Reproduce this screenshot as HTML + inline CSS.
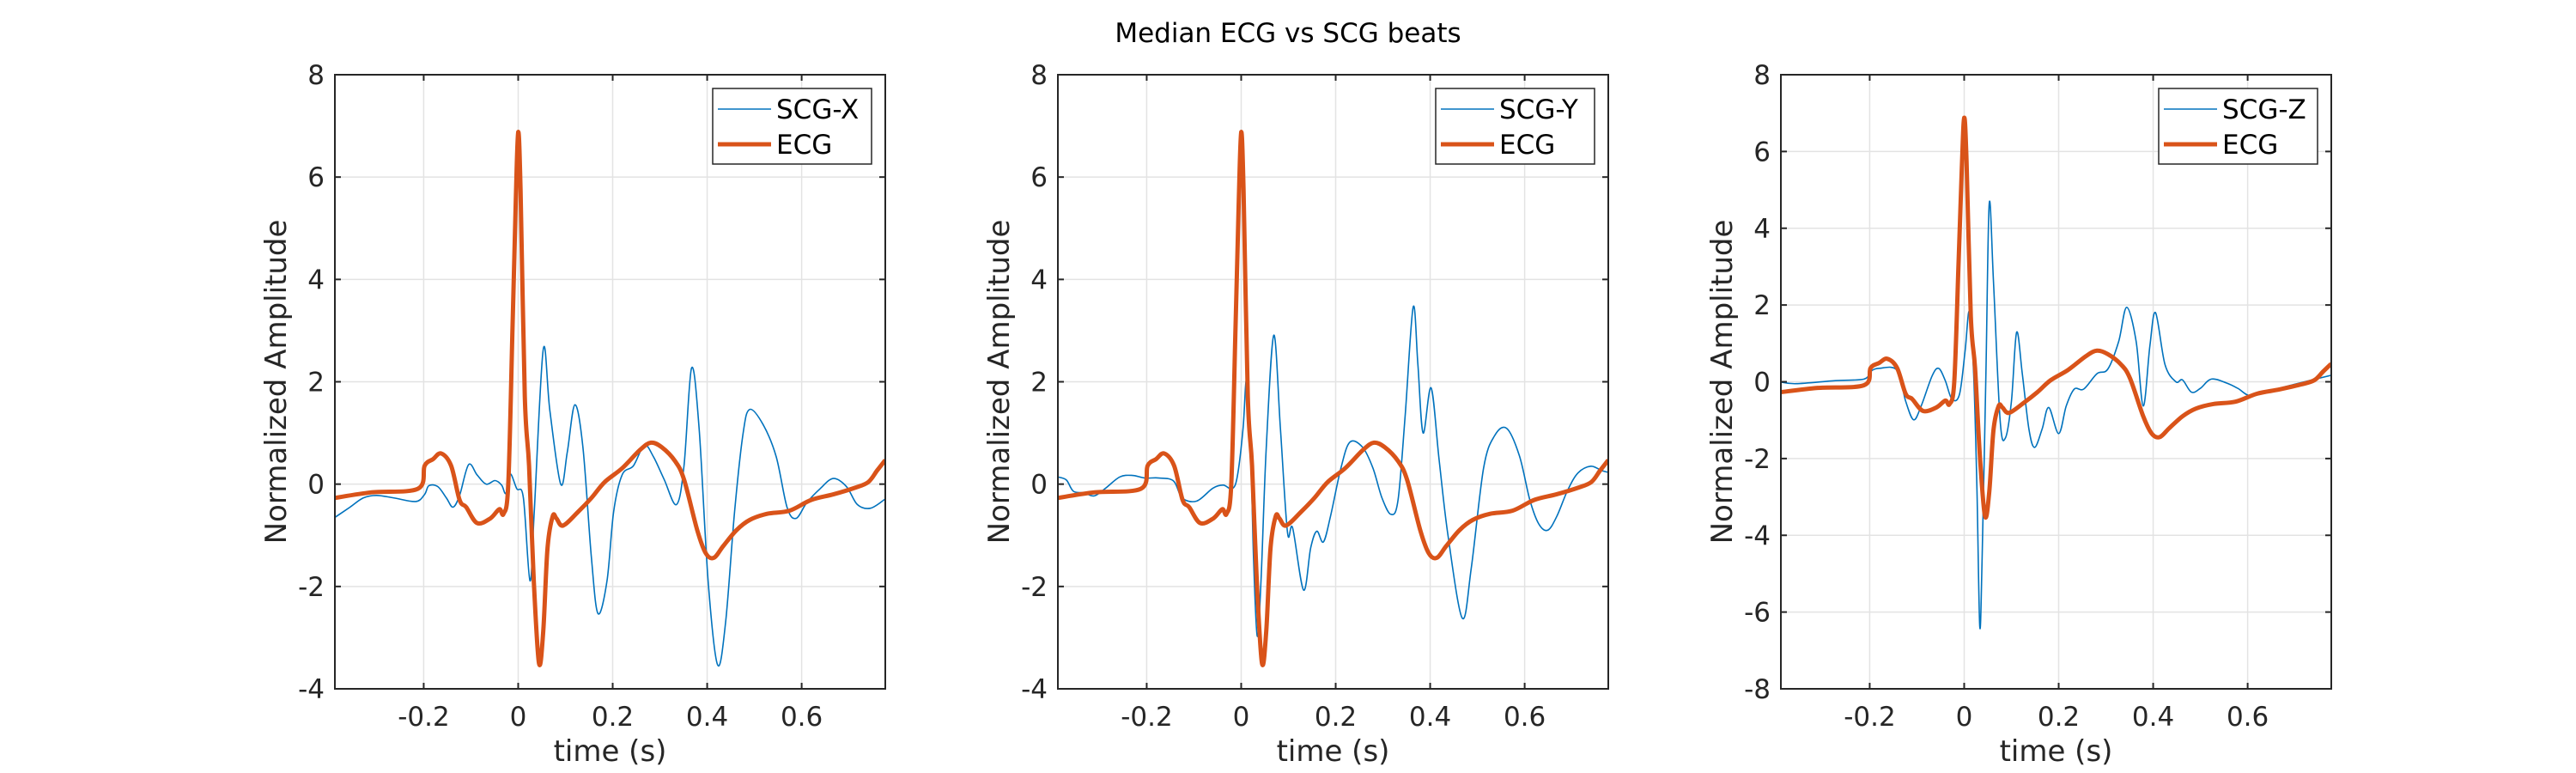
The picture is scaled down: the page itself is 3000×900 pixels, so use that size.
<!DOCTYPE html>
<html><head><meta charset="utf-8">
<style>
html,body{margin:0;padding:0;background:#fff;}
svg{display:block;}
text{font-family:"DejaVu Sans","Liberation Sans",sans-serif;}
</style></head>
<body>
<svg id="fig" xmlns="http://www.w3.org/2000/svg" width="3000" height="900" viewBox="0 0 3000 900">
<rect x="0" y="0" width="3000" height="900" fill="#fff"/>
<text x="1500" y="49" font-size="31" text-anchor="middle" fill="#000">Median ECG vs SCG beats</text>
</svg>
<script>
// ECG (shared across panels)
const ecgT = [-0.388,-0.310,-0.212,-0.198,-0.180,-0.163,-0.142,-0.124,-0.110,-0.087,-0.059,-0.040,-0.031,-0.021,-0.012,-0.005,0.0,0.005,0.014,0.023,0.033,0.044,0.053,0.062,0.073,0.081,0.095,0.127,0.155,0.183,0.220,0.258,0.281,0.304,0.332,0.351,0.379,0.397,0.414,0.434,0.462,0.490,0.527,0.574,0.620,0.667,0.713,0.741,0.760,0.777];
const ecgV = [-0.27,-0.16,-0.09,0.36,0.49,0.6,0.36,-0.31,-0.45,-0.76,-0.67,-0.49,-0.58,0.0,3.06,5.57,6.88,5.75,1.71,0.36,-1.89,-3.5,-2.88,-1.26,-0.63,-0.67,-0.81,-0.54,-0.27,0.04,0.31,0.67,0.81,0.72,0.45,0.09,-0.9,-1.35,-1.44,-1.21,-0.9,-0.7,-0.58,-0.52,-0.31,-0.2,-0.07,0.04,0.27,0.47];
// SCG-X
const scgXT = [-0.388,-0.356,-0.328,-0.300,-0.263,-0.217,-0.198,-0.189,-0.170,-0.152,-0.138,-0.124,-0.105,-0.087,-0.068,-0.049,-0.035,-0.026,-0.017,-0.003,0.011,0.025,0.034,0.053,0.067,0.090,0.104,0.120,0.137,0.155,0.169,0.188,0.202,0.220,0.244,0.267,0.286,0.309,0.335,0.351,0.367,0.383,0.402,0.422,0.439,0.458,0.476,0.490,0.518,0.546,0.569,0.588,0.611,0.639,0.667,0.695,0.718,0.746,0.777];
const scgXV = [-0.65,-0.45,-0.27,-0.22,-0.27,-0.34,-0.2,-0.03,-0.05,-0.27,-0.45,-0.22,0.38,0.18,0.0,0.07,-0.02,-0.18,0.2,-0.09,-0.27,-1.89,-0.54,2.63,1.44,0.0,0.63,1.55,0.72,-1.44,-2.53,-1.89,-0.54,0.18,0.36,0.76,0.54,0.09,-0.4,0.36,2.27,1.08,-1.89,-3.53,-2.7,-0.54,0.99,1.46,1.17,0.54,-0.45,-0.67,-0.36,-0.09,0.11,-0.05,-0.4,-0.47,-0.29];
// SCG-Y
const scgYT = [-0.388,-0.370,-0.355,-0.332,-0.311,-0.287,-0.257,-0.230,-0.204,-0.174,-0.143,-0.125,-0.094,-0.060,-0.038,-0.019,-0.008,0.004,0.011,0.019,0.026,0.034,0.042,0.053,0.069,0.083,0.098,0.109,0.132,0.147,0.160,0.174,0.189,0.211,0.230,0.257,0.279,0.298,0.317,0.332,0.347,0.364,0.374,0.385,0.402,0.419,0.438,0.468,0.487,0.513,0.536,0.562,0.589,0.611,0.630,0.649,0.668,0.691,0.713,0.740,0.762,0.777];
const scgYV = [0.14,0.08,-0.14,-0.17,-0.23,-0.08,0.14,0.17,0.12,0.12,0.06,-0.27,-0.33,-0.08,-0.02,-0.09,0.16,1.09,2.03,1.09,-1.41,-2.97,-1.88,0.7,2.91,1.09,-0.94,-0.86,-2.07,-1.25,-0.92,-1.13,-0.63,0.31,0.82,0.72,0.31,-0.27,-0.59,-0.31,1.33,3.46,2.34,1.0,1.88,0.47,-1.02,-2.62,-1.64,0.31,0.94,1.09,0.55,-0.31,-0.78,-0.9,-0.63,-0.12,0.22,0.35,0.27,0.23];
// SCG-Z
const scgZT = [-0.391,-0.356,-0.273,-0.212,-0.198,-0.180,-0.142,-0.124,-0.107,-0.091,-0.068,-0.054,-0.040,-0.026,-0.010,0.002,0.011,0.020,0.027,0.033,0.038,0.046,0.053,0.062,0.076,0.087,0.100,0.111,0.123,0.137,0.149,0.165,0.179,0.200,0.216,0.233,0.253,0.281,0.304,0.327,0.344,0.364,0.379,0.393,0.405,0.425,0.448,0.462,0.481,0.500,0.523,0.555,0.579,0.606,0.643,0.704,0.777];
const scgZV = [0.0,-0.05,0.03,0.07,0.27,0.35,0.3,-0.5,-0.99,-0.63,0.15,0.35,0.03,-0.45,-0.33,0.81,1.83,0.21,-2.79,-6.38,-4.58,0.21,4.64,2.61,-0.99,-1.47,-0.51,1.29,0.21,-1.23,-1.71,-1.23,-0.67,-1.35,-0.63,-0.19,-0.19,0.21,0.33,1.05,1.94,1.05,-0.63,0.93,1.8,0.45,0.0,0.05,-0.27,-0.17,0.07,-0.03,-0.17,-0.37,-0.25,-0.05,0.17];
// tick labels
const xTicks = [-0.2,0,0.2,0.4,0.6];
const yTicks12 = [-4,-2,0,2,4,6,8];
const yTicks3 = [-8,-6,-4,-2,0,2,4,6,8];

const NS = "http://www.w3.org/2000/svg";
const svg = document.getElementById('fig');
const XMIN=-0.388, XMAX=0.777, TOP=87, BOT=802, W=641;
function mk(tag, attrs, parent){const e=document.createElementNS(NS,tag);for(const k in attrs)e.setAttribute(k,attrs[k]);(parent||svg).appendChild(e);return e;}
function smoothPath(pts){
  let d='M'+pts[0][0].toFixed(2)+','+pts[0][1].toFixed(2);
  for(let i=0;i<pts.length-1;i++){
    const p0=pts[Math.max(0,i-1)],p1=pts[i],p2=pts[i+1],p3=pts[Math.min(pts.length-1,i+2)];
    const c1x=p1[0]+(p2[0]-p0[0])/6,c1y=p1[1]+(p2[1]-p0[1])/6;
    const c2x=p2[0]-(p3[0]-p1[0])/6,c2y=p2[1]-(p3[1]-p1[1])/6;
    d+=' C'+c1x.toFixed(2)+','+c1y.toFixed(2)+' '+c2x.toFixed(2)+','+c2y.toFixed(2)+' '+p2[0].toFixed(2)+','+p2[1].toFixed(2);
  }
  return d;
}

function panel(idx,left,yMin,yMax,yTicks,scgT,scgV,label){
  const sx=t=>left+(t-XMIN)/(XMAX-XMIN)*W;
  const sy=v=>BOT-(v-yMin)/(yMax-yMin)*(BOT-TOP);
  const g=mk('g',{});
  
  
  xTicks.forEach(t=>{const l=mk('line',{x1:sx(t),x2:sx(t),y1:TOP,y2:BOT,stroke:'#e3e3e3','stroke-width':1.5},g);
    });
  yTicks.forEach(v=>{const l=mk('line',{x1:left,x2:left+W,y1:sy(v),y2:sy(v),stroke:'#e3e3e3','stroke-width':1.5},g);
    });
  const cp=mk('clipPath',{id:'clip'+idx},g);
  mk('rect',{x:left,y:TOP,width:W,height:BOT-TOP},cp);
  const p1=mk('path',{d:smoothPath(scgT.map((t,i)=>[sx(t),sy(scgV[i])])),fill:'none',stroke:'#0072BD','stroke-width':1.6,'stroke-linejoin':'round','clip-path':'url(#clip'+idx+')'},g);
  
  
  const p2=mk('path',{d:smoothPath(ecgT.map((t,i)=>[sx(t),sy(ecgV[i])])),fill:'none',stroke:'#D95319','stroke-width':5,'stroke-linejoin':'round','clip-path':'url(#clip'+idx+')'},g);
  
  
  const b=mk('rect',{x:left,y:TOP,width:W,height:BOT-TOP,fill:'none',stroke:'#262626','stroke-width':2},g);
  
  xTicks.forEach(t=>{
    mk('line',{x1:sx(t),x2:sx(t),y1:BOT,y2:BOT-7,stroke:'#262626','stroke-width':2},g);
    mk('line',{x1:sx(t),x2:sx(t),y1:TOP,y2:TOP+7,stroke:'#262626','stroke-width':2},g);
    const tx=mk('text',{x:sx(t),y:845,'font-size':31,'text-anchor':'middle',fill:'#262626'},g);
    tx.textContent=String(t);
    
  });
  yTicks.forEach(v=>{
    mk('line',{x1:left,x2:left+7,y1:sy(v),y2:sy(v),stroke:'#262626','stroke-width':2},g);
    mk('line',{x1:left+W,x2:left+W-7,y1:sy(v),y2:sy(v),stroke:'#262626','stroke-width':2},g);
    const tx=mk('text',{x:left-12,y:sy(v)+11,'font-size':31,'text-anchor':'end',fill:'#262626'},g);
    tx.textContent=String(v);
    
  });
  const xl=mk('text',{x:left+W/2,y:886,'font-size':34,'text-anchor':'middle',fill:'#262626'},g);
  xl.textContent='time (s)';
  
  const yl=mk('text',{x:0,y:0,'font-size':34,'text-anchor':'middle',fill:'#262626',transform:'translate('+(left-57)+','+((TOP+BOT)/2)+') rotate(-90)'},g);
  yl.textContent='Normalized Amplitude';
  
  const lg=mk('g',{},g);
  
  const lx=left+W-16-185;
  mk('rect',{x:lx,y:103,width:185,height:88,fill:'#fff',stroke:'#262626','stroke-width':1.5},lg);
  mk('line',{x1:lx+6,x2:lx+68,y1:127,y2:127,stroke:'#0072BD','stroke-width':1.6},lg);
  mk('line',{x1:lx+6,x2:lx+68,y1:168,y2:168,stroke:'#D95319','stroke-width':5},lg);
  const t1=mk('text',{x:lx+74,y:138,'font-size':31,fill:'#000'},lg);
  t1.textContent=label;
  
  const t2=mk('text',{x:lx+74,y:179,'font-size':31,fill:'#000'},lg);
  t2.textContent='ECG';
  
}
panel(0,390,-4,8,yTicks12,scgXT,scgXV,'SCG-X');
panel(1,1232,-4,8,yTicks12,scgYT,scgYV,'SCG-Y');
panel(2,2074,-8,8,yTicks3,scgZT,scgZV,'SCG-Z');
</script>
</body></html>
